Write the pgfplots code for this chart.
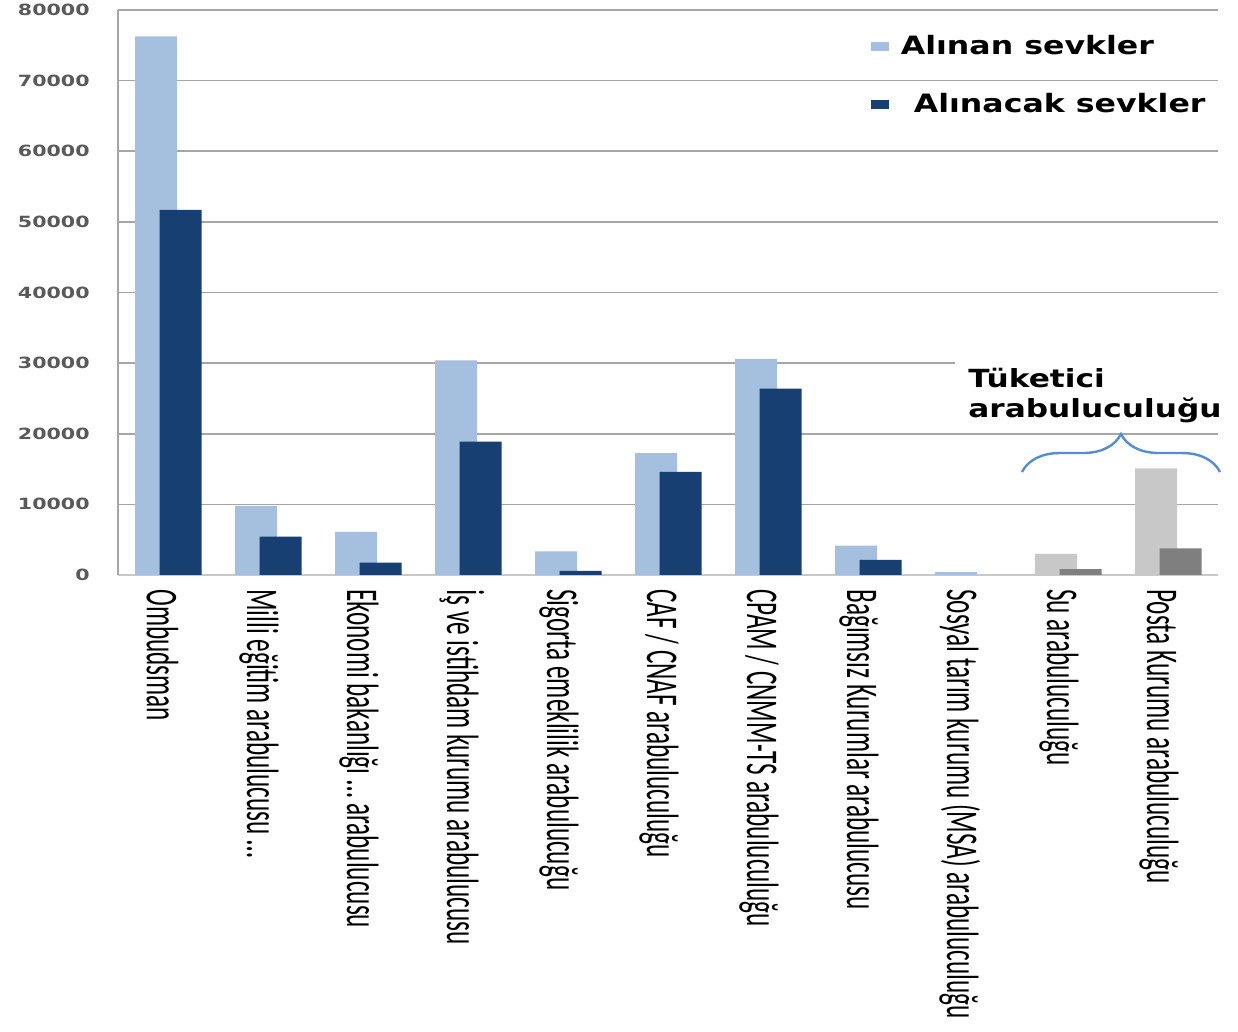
\documentclass[border=0pt]{standalone}
\usepackage{pgfplots}
\pgfplotsset{compat=1.18}
\usepackage{fontspec}
\setmainfont{DejaVu Sans}
\newfontfamily\catfont{Carlito}
\usetikzlibrary{decorations.pathreplacing}

\definecolor{lightbar}{HTML}{A5BFDF}
\definecolor{darkbar}{HTML}{173F72}
\definecolor{lightgraybar}{HTML}{C8C8C8}
\definecolor{darkgraybar}{HTML}{7F7F7F}
\definecolor{gridgray}{HTML}{A6A6A6}
\definecolor{tickgray}{HTML}{595959}
\definecolor{bracecol}{HTML}{548DD4}

\pgfplotsset{sq legend/.style={legend image code/.code={\fill[##1,draw=none] (0pt,-2.3pt) rectangle (9pt,2.3pt);}}}

% category labels: condensed look, baseline left of the tick
\newcommand\cl[1]{\raisebox{-10.5pt}{\scalebox{1}[1.8]{#1}}}
\newcommand\bt[1]{\scalebox{1}[0.8]{#1}}

\begin{document}
\begin{tikzpicture}
\begin{axis}[
    at={(59pt,228.5pt)}, anchor=south west,
    scale only axis, width=550pt, height=282.5pt,
    xmin=-0.5, xmax=10.5, ymin=0, ymax=80000,
    clip=false,
    axis x line*=bottom, axis y line*=left,
    x axis line style={draw=lightgraybar, line width=1.4pt},
    y axis line style={draw=gridgray, line width=0.9pt},
    ymajorgrids, grid style={draw=gridgray, line width=0.8pt},
    major tick length=0pt,
    ytick={0,10000,...,80000},
    scaled y ticks=false,
    /pgf/number format/1000 sep={},
    /pgf/number format/assume math mode=true,
    yticklabel={\scalebox{1}[0.75]{\pgfmathprintnumber{\tick}}},
    yticklabel style={font=\fontsize{10.3pt}{12pt}\selectfont\bfseries, text=tickgray, anchor=east, inner sep=0pt},
    yticklabel shift=14pt,
    xtick={0,...,10},
    xticklabels={\cl{Ombudsman}, \cl{Milli eğitim arabulucusu …}, \cl{Ekonomi bakanlığı … arabulucusu},
        \cl{İş ve istihdam kurumu arabulucusu}, \cl{Sigorta emeklilik arabulucuğu}, \cl{CAF / CNAF arabuluculuğu},
        \cl{CPAM / CNMM-TS arabuluculuğu}, \cl{Bağımsız Kurumlar arabulucusu}, \cl{Sosyal tarım kurumu (MSA) arabuluculuğu},
        \cl{Su arabuluculuğu}, \cl{Posta Kurumu arabuluculuğu}},
    xticklabel style={font=\catfont\fontsize{12.6pt}{14pt}\selectfont, rotate=-90, anchor=base west, inner sep=0pt},
    xticklabel shift=7pt,
    legend style={at={(0.684,0.963)}, anchor=north west, draw=none, fill=none, inner sep=0pt,
        row sep=14pt, font=\fontsize{15.8pt}{17pt}\selectfont\bfseries},
    legend cell align=left,
]
\addplot[ybar, bar width=0.42, bar shift=-0.12, fill=lightbar, draw=none, sq legend] coordinates {
    (0,76250) (1,9800) (2,6100) (3,30400) (4,3350) (5,17250) (6,30600) (7,4150) (8,400)
};
\addlegendentry{\hspace{4pt}\bt{Alınan sevkler}}
\addplot[ybar, bar width=0.42, bar shift=0.125, fill=darkbar, draw=none, sq legend] coordinates {
    (0,51700) (1,5420) (2,1750) (3,18900) (4,600) (5,14600) (6,26400) (7,2150)
};
\addlegendentry{\hspace{10.5pt}\bt{Alınacak sevkler}}
\addplot[ybar, bar width=0.42, bar shift=-0.12, fill=lightgraybar, draw=none, forget plot] coordinates {
    (9,3000) (10,15100)
};
\addplot[ybar, bar width=0.42, bar shift=0.125, fill=darkgraybar, draw=none, forget plot] coordinates {
    (9,820) (10,3780)
};
% consumer mediation annotation
\fill[white] (axis cs:7.87,21300) rectangle (axis cs:10.5,33500);
\node[anchor=base west, inner sep=0pt, font=\fontsize{15.6pt}{17pt}\selectfont\bfseries] at (axis cs:8.0,26480) {\bt{Tüketici}};
\node[anchor=base west, inner sep=0pt, font=\fontsize{15.6pt}{17pt}\selectfont\bfseries] at (axis cs:8.0,22370) {\bt{arabuluculuğu}};
\draw[bracecol, line width=1.2pt, decorate, decoration={brace, amplitude=19pt}]
    (axis cs:8.54,14580) -- (axis cs:10.52,14580);
\end{axis}
\pgfresetboundingbox
\useasboundingbox (0,0) rectangle (619pt,516pt);
\end{tikzpicture}
\end{document}
